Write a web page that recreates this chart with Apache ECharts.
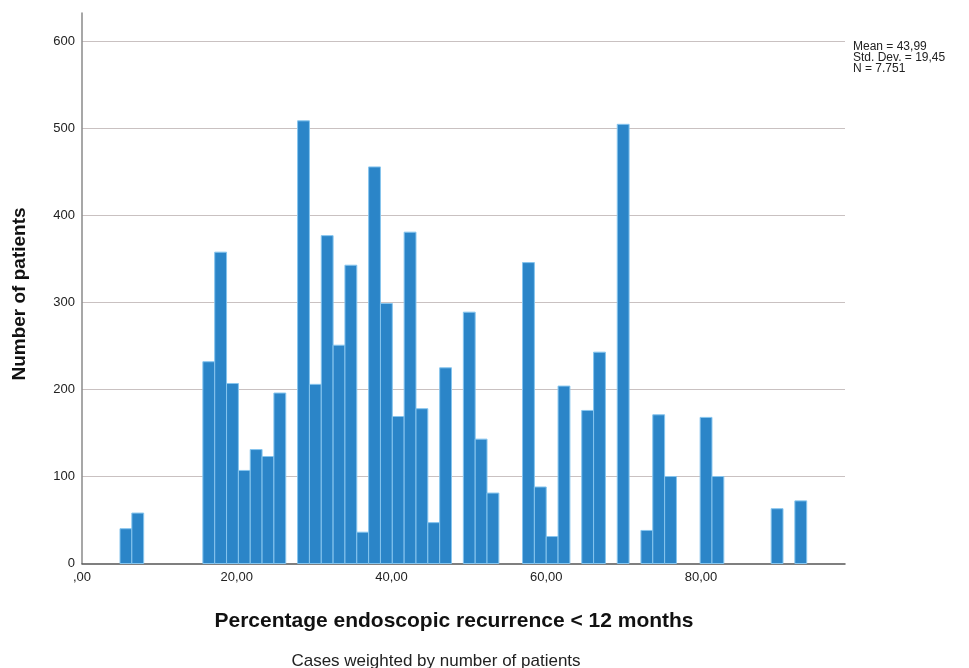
<!DOCTYPE html>
<html>
<head>
<meta charset="utf-8">
<script src="https://cdn.jsdelivr.net/npm/echarts@6/dist/echarts.min.js"></script>
<style>
  html, body { margin: 0; padding: 0; background: #fff; }
  #chart { width: 969px; height: 668px; }
</style>
</head>
<body>
<div id="chart"></div>
<script>
// Histogram bins: first edge, width, and patient counts per bin
const binStart = 4.91;
const binWidth = 1.53;
const counts = [
  40, 58, 0, 0, 0, 0, 0,
  232, 358, 207, 107, 131, 123, 196, 0,
  509, 206, 377, 251, 343, 36, 456, 299, 169, 381, 178, 47, 225, 0,
  289, 143, 81, 0, 0,
  346, 88, 31, 204, 0,
  176, 243, 0,
  505, 0,
  38, 171, 100, 0, 0,
  168, 100, 0, 0, 0, 0,
  63, 0,
  72
];
const xTicks = [0, 20, 40, 60, 80];
const yTicks = [0, 100, 200, 300, 400, 500, 600];
const statLines = ['Mean = 43,99', 'Std. Dev. = 19,45', 'N = 7.751'];

const FONT = '"Liberation Sans", Arial, sans-serif';

const binData = counts.map((c, i) => [binStart + i * binWidth, binStart + (i + 1) * binWidth, c]);

const chart = echarts.init(document.getElementById('chart'), null, { renderer: 'canvas' });

chart.setOption({
  backgroundColor: '#ffffff',
  animation: false,
  grid: { left: 82, right: 124, top: 13, bottom: 104.5 },
  xAxis: {
    type: 'value',
    min: 0,
    max: 98.6,
    interval: 20,
    axisLine: { show: true, lineStyle: { color: '#555555', width: 1.5 } },
    axisTick: { show: false },
    splitLine: { show: false },
    axisLabel: {
      showMaxLabel: false,
      margin: 7,
      color: '#222222',
      fontFamily: FONT,
      fontSize: 13,
      formatter: v => xTicks.includes(v) ? (v === 0 ? ',00' : v.toFixed(2).replace('.', ',')) : ''
    }
  },
  yAxis: {
    type: 'value',
    min: 0,
    max: 633,
    interval: 100,
    axisLine: { show: true, lineStyle: { color: '#8a8a8a', width: 1.5 } },
    axisTick: { show: false },
    splitLine: {
      show: true,
      showMinLine: false,
      showMaxLine: false,
      lineStyle: { color: '#c9c1c1', width: 1.2 }
    },
    axisLabel: {
      showMaxLabel: false,
      margin: 7,
      color: '#222222',
      fontFamily: FONT,
      fontSize: 13,
      formatter: v => yTicks.includes(v) ? String(v) : ''
    }
  },
  series: [{
    type: 'custom',
    data: binData,
    encode: { x: [0, 1], y: 2 },
    renderItem: function (params, api) {
      const count = api.value(2);
      if (!count) return null;
      const topLeft = api.coord([api.value(0), count]);
      const bottomRight = api.coord([api.value(1), 0]);
      return {
        type: 'rect',
        shape: {
          x: topLeft[0],
          y: topLeft[1],
          width: bottomRight[0] - topLeft[0],
          height: bottomRight[1] - topLeft[1]
        },
        style: { fill: '#2b85c8', stroke: '#86c5ee', lineWidth: 1 }
      };
    }
  }],
  graphic: [
    {
      type: 'text',
      x: 20, y: 294,
      rotation: Math.PI / 2,
      style: {
        text: 'Number of patients',
        font: 'bold 19px ' + FONT,
        fill: '#111111',
        align: 'center',
        verticalAlign: 'middle'
      }
    },
    {
      type: 'text',
      x: 454, y: 621,
      style: {
        text: 'Percentage endoscopic recurrence < 12 months',
        font: 'bold 21px ' + FONT,
        fill: '#111111',
        align: 'center',
        verticalAlign: 'middle'
      }
    },
    {
      type: 'text',
      x: 436, y: 661,
      style: {
        text: 'Cases weighted by number of patients',
        font: '17px ' + FONT,
        fill: '#222222',
        align: 'center',
        verticalAlign: 'middle'
      }
    },
    ...statLines.map((t, i) => ({
      type: 'text',
      x: 853, y: 47 + i * 11,
      style: {
        text: t,
        font: '12px ' + FONT,
        fill: '#222222',
        align: 'left',
        verticalAlign: 'middle'
      }
    }))
  ]
});
</script>
</body>
</html>
